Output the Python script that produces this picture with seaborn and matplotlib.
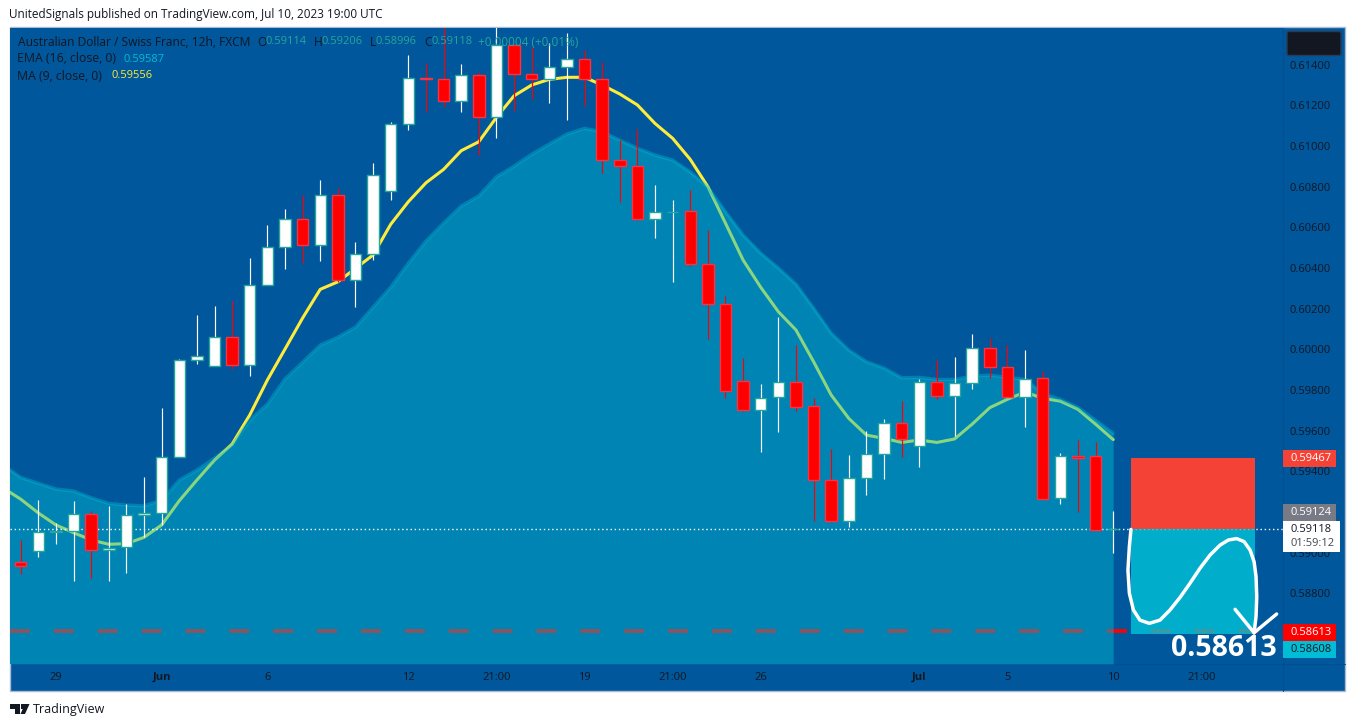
import numpy as np
import matplotlib
matplotlib.use("Agg")
import matplotlib.pyplot as plt
import seaborn as sns
from matplotlib.patches import Rectangle, Polygon, FancyBboxPatch

# AUD/CHF 12h candles
opens = [0.58953, 0.59006, 0.59103, 0.59105, 0.59188, 0.59011, 0.59026, 0.59183, 0.59193, 0.59468,
         0.59946, 0.59916, 0.60059, 0.59924, 0.60315, 0.60502, 0.60639, 0.60511, 0.60759, 0.60339,
         0.60467, 0.60777, 0.61107, 0.61333, 0.61328, 0.61223, 0.61348, 0.61141, 0.61498, 0.61353,
         0.61328, 0.61387, 0.61426, 0.61328, 0.60929, 0.60900, 0.60639, 0.60674, 0.60679, 0.60418,
         0.60221, 0.59842, 0.59700, 0.59764, 0.59837, 0.59719, 0.59355, 0.59154, 0.59365, 0.59483,
         0.59636, 0.59523, 0.59837, 0.59769, 0.59833, 0.60005, 0.59911, 0.59764, 0.59857, 0.59267,
         0.59473, 0.59473, 0.59114]
highs = [0.59062, 0.59258, 0.59147, 0.59254, 0.59204, 0.59229, 0.59239, 0.59372, 0.59711, 0.59952,
         0.60169, 0.60213, 0.60237, 0.60449, 0.60611, 0.60690, 0.60759, 0.60833, 0.60792, 0.60528,
         0.60916, 0.61116, 0.61447, 0.61407, 0.61600, 0.61403, 0.61362, 0.61600, 0.61500, 0.61485,
         0.61505, 0.61554, 0.61472, 0.61413, 0.61029, 0.61082, 0.60808, 0.60734, 0.60783, 0.60587,
         0.60262, 0.59957, 0.59829, 0.60159, 0.60019, 0.59760, 0.59508, 0.59480, 0.59596, 0.59657,
         0.59745, 0.59852, 0.59947, 0.59962, 0.60075, 0.60055, 0.60019, 0.59996, 0.59892, 0.59488,
         0.59554, 0.59544, 0.59206]
lows = [0.58894, 0.58980, 0.59042, 0.58862, 0.58876, 0.58862, 0.58901, 0.59075, 0.59136, 0.59468,
        0.59927, 0.59916, 0.59901, 0.59870, 0.60315, 0.60395, 0.60426, 0.60434, 0.60332, 0.60209,
        0.60439, 0.60734, 0.61080, 0.61169, 0.61190, 0.61169, 0.60956, 0.61041, 0.61172, 0.61231,
        0.61213, 0.61129, 0.61198, 0.60866, 0.60726, 0.60637, 0.60549, 0.60332, 0.60410, 0.60052,
        0.59762, 0.59696, 0.59496, 0.59594, 0.59696, 0.59155, 0.59150, 0.59126, 0.59285, 0.59362,
        0.59470, 0.59422, 0.59755, 0.59573, 0.59805, 0.59860, 0.59764, 0.59619, 0.59265, 0.59240,
        0.59201, 0.59109, 0.58996]
closes = [0.58935, 0.59103, 0.59105, 0.59188, 0.59011, 0.59024, 0.59183, 0.59193, 0.59468, 0.59946,
          0.59965, 0.60059, 0.59924, 0.60315, 0.60502, 0.60639, 0.60511, 0.60759, 0.60339, 0.60467,
          0.60857, 0.61107, 0.61333, 0.61331, 0.61223, 0.61348, 0.61141, 0.61498, 0.61353, 0.61328,
          0.61387, 0.61426, 0.61328, 0.60929, 0.60900, 0.60639, 0.60674, 0.60676, 0.60418, 0.60221,
          0.59793, 0.59700, 0.59762, 0.59837, 0.59717, 0.59355, 0.59154, 0.59365, 0.59483, 0.59636,
          0.59557, 0.59837, 0.59769, 0.59833, 0.60005, 0.59911, 0.59764, 0.59855, 0.59265, 0.59473,
          0.59467, 0.59110, 0.59118]

# first value of both averages belongs to the bar just left of the pane
ma_vals = [0.59318, 0.59263, 0.59195, 0.59136, 0.59098, 0.59062, 0.59041, 0.59044, 0.59075, 0.59136,
           0.59255, 0.59357, 0.59455, 0.59534, 0.59677, 0.59849, 0.60001, 0.60154, 0.60295, 0.60332,
           0.60398, 0.60464, 0.60615, 0.60726, 0.60819, 0.60885, 0.60977, 0.61021, 0.61141, 0.61247,
           0.61300, 0.61328, 0.61338, 0.61338, 0.61300, 0.61256, 0.61202, 0.61111, 0.61038, 0.60934,
           0.60800, 0.60620, 0.60439, 0.60305, 0.60185, 0.60095, 0.59939, 0.59775, 0.59660, 0.59578,
           0.59562, 0.59542, 0.59554, 0.59542, 0.59559, 0.59632, 0.59713, 0.59754, 0.59790, 0.59759,
           0.59745, 0.59705, 0.59632, 0.59556]
ema_vals = [0.59431, 0.59370, 0.59341, 0.59313, 0.59303, 0.59270, 0.59242, 0.59234, 0.59230, 0.59258,
            0.59357, 0.59406, 0.59465, 0.59529, 0.59652, 0.59731, 0.59854, 0.59937, 0.60021, 0.60060,
            0.60109, 0.60208, 0.60306, 0.60424, 0.60533, 0.60621, 0.60705, 0.60755, 0.60849, 0.60901,
            0.60960, 0.61010, 0.61059, 0.61087, 0.61070, 0.61029, 0.60989, 0.60956, 0.60931, 0.60873,
            0.60798, 0.60677, 0.60562, 0.60473, 0.60400, 0.60321, 0.60203, 0.60080, 0.59996, 0.59939,
            0.59908, 0.59860, 0.59862, 0.59852, 0.59852, 0.59868, 0.59873, 0.59862, 0.59852, 0.59783,
            0.59754, 0.59714, 0.59652, 0.59587]

y_ticks = [0.588, 0.590, 0.594, 0.596, 0.598, 0.600, 0.602, 0.604, 0.606, 0.608, 0.610, 0.612, 0.614]
x_tick_pos = [2, 8, 14, 22, 27, 32, 37, 42, 51, 56, 62, 67]
x_tick_labels = ["29", "Jun", "6", "12", "21:00", "19", "21:00", "26", "Jul", "5", "10", "21:00"]

last_close = 0.59118
stop_price = 0.59467
target_price = 0.58613

# the hand drawn swoosh on the position box (bar index, price)
swoosh_x = [63.01, 62.92, 62.84, 62.92, 63.15, 63.52, 64.05, 64.66, 65.23, 65.80, 66.36, 66.93,
            67.50, 68.07, 68.54, 69.01, 69.43, 69.77, 70.0, 70.11, 70.15, 70.11, 70.0]
swoosh_y = [0.59114, 0.59029, 0.58914, 0.58800, 0.58718, 0.58668, 0.58652, 0.58668, 0.58718, 0.58780,
            0.58849, 0.58923, 0.58988, 0.59037, 0.59062, 0.59069, 0.59054, 0.59013, 0.58955, 0.58882,
            0.58783, 0.58685, 0.58606]
chevron_x = [68.92, 70.0, 71.28]
chevron_y = [0.58721, 0.58606, 0.58698]

BG = "#00579b"
TXT = "#131722"
TEAL = "#26a69a"
CYAN = "#00bcd4"
SEP = "#004f8f"

sns.set_theme(style="white")
plt.rcParams["font.family"] = ["Open Sans", "DejaVu Sans"]

W, H = 1355, 727
def fx(x):
    return x / W
def fy(y):
    return 1 - y / H

fig = plt.figure(figsize=(W / 100, H / 100), dpi=100, facecolor="white")

# frame of the whole widget
fig.add_artist(Rectangle((fx(10), fy(691)), 1335 / W, 664 / H, transform=fig.transFigure,
                         fc=BG, ec="#a9bcd6", lw=1, zorder=-1))

L, T, R, B = 10, 27.5, 1283, 663.7
ax = fig.add_axes([fx(L), fy(B), (R - L) / W, (B - T) / H], facecolor=BG)

idx = np.arange(len(opens))
line_idx = np.arange(-1, len(opens))

# ma and stop line go under the area, that is what turns them green and brown
sns.lineplot(x=line_idx, y=ma_vals, color="#ffeb3b", linewidth=2.2, zorder=1, ax=ax, legend=False)
ax.hlines(target_price, -0.607, 70.45, color="#ff0000", lw=2.7, linestyles=(0, (5.3, 6.4)), zorder=1.2)

ymin = 0.617183 - B * 4.919e-5
ymax = 0.617183 - T * 4.919e-5
ax.fill_between(line_idx, ema_vals, ymin, color=CYAN, alpha=0.45, lw=0, zorder=2)
sns.lineplot(x=line_idx, y=ema_vals, color=CYAN, alpha=0.4, linewidth=2.4, zorder=2.2, ax=ax, legend=False)

ax.axhline(last_close, color="white", lw=1, linestyle=(0, (1, 2)), zorder=3)

# position tool
ax.add_patch(Rectangle((63.01, last_close), 7.04, stop_price - last_close, fc="#f44336", ec="none", zorder=3.5))
ax.add_patch(Rectangle((63.01, target_price - 0.00012), 7.04, last_close - target_price + 0.00012, fc="#00cadc",
                       alpha=0.765, ec="none", zorder=3.5))

colors = ["#ff0000" if c < o else "white" for o, c in zip(opens, closes)]
edges = ["#f23645" if c < o else TEAL for o, c in zip(opens, closes)]
ax.vlines(idx, lows, highs, colors=colors, lw=0.85, zorder=4)
ax.bar(idx, np.array(closes) - np.array(opens), bottom=opens, width=0.65, color=colors,
       edgecolor=edges, linewidth=1.0, zorder=5)

ax.plot(swoosh_x, swoosh_y, color="white", lw=2.5, solid_joinstyle="round", solid_capstyle="round", zorder=6)
ax.plot(chevron_x, chevron_y, color="white", lw=2.5, solid_joinstyle="miter", solid_capstyle="round", zorder=6)

ax.set_xlim(-0.607, 71.64)
ax.set_ylim(ymin, ymax)
ax.set_xlabel("")
ax.set_ylabel("")
ax.yaxis.tick_right()
ax.set_yticks(y_ticks)
ax.set_yticklabels(["%.5f" % v for v in y_ticks])
ax.set_xticks(x_tick_pos)
ax.set_xticklabels(x_tick_labels)
ax.tick_params(axis="both", length=0, labelcolor=TXT, labelsize=8, labelright=True)
ax.tick_params(axis="y", pad=5)
ax.tick_params(axis="x", pad=6)
for t in ax.get_xticklabels():
    if t.get_text() in ("Jun", "Jul"):
        t.set_fontweight("bold")
for s in ax.spines.values():
    s.set_visible(False)
fig.add_artist(plt.Line2D([fx(1283), fx(1283)], [fy(27.5), fy(691)], color=SEP, lw=0.8, zorder=0.5))
fig.add_artist(plt.Line2D([fx(1113.5), fx(1345)], [fy(664), fy(664)], color=SEP, lw=0.8, zorder=0.5))

def put(x, y, s, color=TXT, size=8, **kw):
    fig.text(fx(x), fy(y), s, color=color, fontsize=size, va="center", zorder=8, **kw)

# header, legend rows, footer
put(9, 14.5, "UnitedSignals published on TradingView.com, Jul 10, 2023 19:00 UTC", size=8.45)
put(18, 42, "Australian Dollar / Swiss Franc, 12h, FXCM", size=8.65)
for lx, lab, vx, val in [(257, "O", 265, "0.59114"), (314, "H", 322, "0.59206"),
                         (370, "L", 376, "0.58996"), (424, "C", 431, "0.59118")]:
    put(lx, 42, lab, size=8.65)
    put(vx, 42, val, color=TEAL)
put(478, 42, "+0.00004 (+0.01%)", color=TEAL, size=8.5)
put(17, 59, "EMA (16, close, 0)", size=8.8)
put(124, 59, "0.59587", color=CYAN)
put(17, 76, "MA (9, close, 0)", size=8.8)
put(112, 76, "0.59556", color="#ffeb3b")
put(33, 709, "TradingView", size=9)

# price tags on the axis
def tag(y0, y1, fc, s, color="white", x1=1336):
    fig.add_artist(Rectangle((fx(1283), fy(y1)), (x1 - 1283) / W, (y1 - y0) / H, transform=fig.transFigure,
                             fc=fc, ec="none", zorder=5))
    if s:
        put(1290.5, (y0 + y1) / 2, s, color=color)

tag(450, 467, "#f44336", "0.59467")
tag(504, 521, "#787b86", "0.59124")
tag(521, 552, "white", "", x1=1340)
put(1290.5, 529.5, "0.59118", color="#131722")
put(1290.5, 543, "01:59:12", color="#434651")
tag(624, 640.7, "#ff0000", "0.58613")
tag(641, 658, "#00bcd4", "0.58608", color=TXT)

fig.add_artist(FancyBboxPatch((fx(1287), fy(55.5)), 54 / W, 24 / H, boxstyle="round,pad=0,rounding_size=0.002",
                              transform=fig.transFigure, fc="#131722", ec="#2a3a55", lw=1, zorder=5))

put(1171, 648.5, "0.58613", color="white", size=20.5, fontweight="bold")

# tv logo
fig.add_artist(Polygon([(fx(10), fy(704)), (fx(20), fy(704)), (fx(20), fy(714)), (fx(15), fy(714)),
                        (fx(15), fy(709)), (fx(10), fy(709))], transform=fig.transFigure, fc=TXT, ec="none", zorder=8))
fig.add_artist(Polygon([(fx(25), fy(704)), (fx(29.5), fy(704)), (fx(25), fy(714)), (fx(20.5), fy(714))],
                       transform=fig.transFigure, fc=TXT, ec="none", zorder=8))
fig.add_artist(Rectangle((fx(21), fy(708.5)), 3.5 / W, 4.5 / H, transform=fig.transFigure, fc=TXT, ec="none", zorder=8))

fig.savefig("out.png", dpi=100)
